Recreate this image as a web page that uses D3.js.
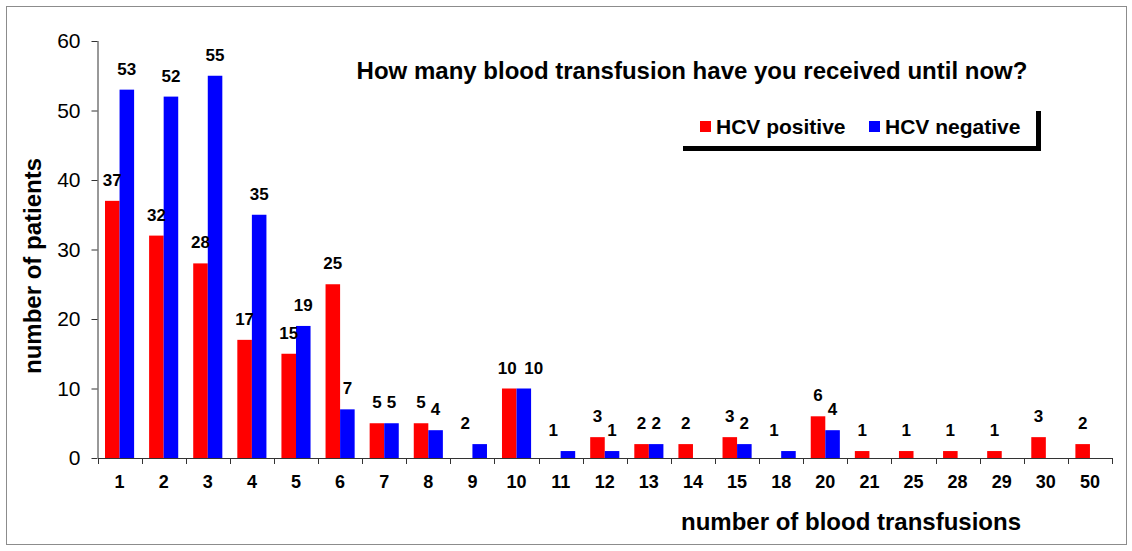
<!DOCTYPE html>
<html>
<head>
<meta charset="utf-8">
<script src="https://cdn.jsdelivr.net/npm/d3@7"></script>
<style>
  body { margin: 0; background: #fff; }
  svg text { font-family: "Liberation Sans", Arial, sans-serif; }
</style>
</head>
<body>
<div id="chart"></div>
<script>
// data
var categories = ["1","2","3","4","5","6","7","8","9","10","11","12","13","14","15","18","20","21","25","28","29","30","50"]
var hcvPositive = [37,32,28,17,15,25,5,5,0,10,0,3,2,2,3,0,6,1,1,1,1,3,2]
var hcvNegative = [53,52,55,35,19,7,5,4,2,10,1,1,2,0,2,1,4,0,0,0,0,0,0]
var yTicks = [0,10,20,30,40,50,60]
var seriesNames = ["HCV positive","HCV negative"]
var seriesColors = ["#ff0000","#0000ff"]

var width = 1132
var height = 551

var svg = d3.select("#chart")
  .append("svg")
    .attr("width", width)
    .attr("height", height)

// outer frame
svg.append("rect")
  .attr("x", 6.5).attr("y", 6.5)
  .attr("width", 1120).attr("height", 538)
  .attr("fill", "none")
  .attr("stroke", "#8c8c8c")
  .attr("stroke-width", 1)

var x = d3.scaleBand()
  .domain(categories)
  .range([97.5, 1112])
  .padding(0)

var x1 = d3.scaleBand()
  .domain([0, 1])
  .range([7.5, x.bandwidth() - 7.5])

var y = d3.scaleLinear()
  .domain([0, 60])
  .range([458, 41])

var rows = categories.map(function(c, i) {
  return {cat: c, values: [hcvPositive[i], hcvNegative[i]]}
})

// y axis
var yAxis = svg.append("g")
  .attr("transform", "translate(97.5,0)")
  .call(d3.axisLeft(y).tickValues(yTicks).tickSize(6).tickPadding(11))
yAxis.selectAll("text").style("font-size", "21px").attr("fill", "#000")
yAxis.selectAll("line, path").attr("stroke", "#333")
yAxis.select(".domain").attr("d", "M0.5," + y(60) + "V" + y(0))

// x axis: labels at centers, ticks at category boundaries
var xAxis = svg.append("g")
  .attr("transform", "translate(0,458)")
  .call(d3.axisBottom(x).tickSizeInner(0).tickSizeOuter(0).tickPadding(17))
xAxis.selectAll("text")
  .style("font-size", "18px")
  .style("font-weight", "bold")
  .attr("fill", "#000")
xAxis.select(".domain").attr("stroke", "#333")

var bounds = categories.map(function(c) { return x(c) }).concat([x.range()[1]])
xAxis.selectAll(".bound")
  .data(bounds)
  .enter()
  .append("line")
    .attr("class", "bound")
    .attr("x1", function(d) { return Math.round(d) + 0.5 })
    .attr("x2", function(d) { return Math.round(d) + 0.5 })
    .attr("y1", 0)
    .attr("y2", 6)
    .attr("stroke", "#333")

// bars
var groups = svg.selectAll(".cat")
  .data(rows)
  .enter()
  .append("g")
    .attr("class", "cat")
    .attr("transform", function(d) { return "translate(" + x(d.cat) + ",0)" })

groups.selectAll("rect")
  .data(function(d) { return d.values })
  .enter()
  .append("rect")
    .attr("x", function(d, i) { return x1(i) })
    .attr("width", x1.bandwidth())
    .attr("y", function(d) { return y(d) })
    .attr("height", function(d) { return y(0) - y(d) })
    .attr("fill", function(d, i) { return seriesColors[i] })

// value labels, no label for zero
// two wide labels at the same height get pushed apart so they don't overlap
groups.each(function(row) {
  var clash = row.values[0] >= 10 && row.values[0] == row.values[1]
  d3.select(this).selectAll("text")
    .data(row.values)
    .enter()
    .append("text")
      .filter(function(d) { return d > 0 })
      .attr("x", function(d, i) {
        var nudge = clash ? (i == 0 ? -2 : 10) : 0
        return x1(i) + x1.bandwidth() / 2 + nudge
      })
      .attr("y", function(d) { return y(d) - 15 })
      .attr("text-anchor", "middle")
      .style("font-size", "17px")
      .style("font-weight", "bold")
      .text(function(d) { return d })
})

// axis titles
svg.append("text")
  .attr("transform", "translate(41,266) rotate(-90)")
  .attr("text-anchor", "middle")
  .style("font-size", "24px")
  .style("font-weight", "bold")
  .text("number of patients")

svg.append("text")
  .attr("x", 851)
  .attr("y", 530)
  .attr("text-anchor", "middle")
  .style("font-size", "24px")
  .style("font-weight", "bold")
  .text("number of blood transfusions")

// title
svg.append("text")
  .attr("x", 692)
  .attr("y", 79)
  .attr("text-anchor", "middle")
  .style("font-size", "24px")
  .style("font-weight", "bold")
  .text("How many blood transfusion have you received until now?")

// legend with shadow on right and bottom
var legend = svg.append("g")
svg.append("path")
  .attr("d", "M683,148.5H1038.5V111")
  .attr("fill", "none")
  .attr("stroke", "#000")
  .attr("stroke-width", 5)

var legendX = [700, 869]
legend.selectAll("rect")
  .data(seriesNames)
  .enter()
  .append("rect")
    .attr("x", function(d, i) { return legendX[i] })
    .attr("y", 121)
    .attr("width", 11)
    .attr("height", 11)
    .attr("fill", function(d, i) { return seriesColors[i] })

legend.selectAll("text")
  .data(seriesNames)
  .enter()
  .append("text")
    .attr("x", function(d, i) { return legendX[i] + 16 })
    .attr("y", 134)
    .style("font-size", "21px")
    .style("font-weight", "bold")
    .text(function(d) { return d })
</script>
</body>
</html>
